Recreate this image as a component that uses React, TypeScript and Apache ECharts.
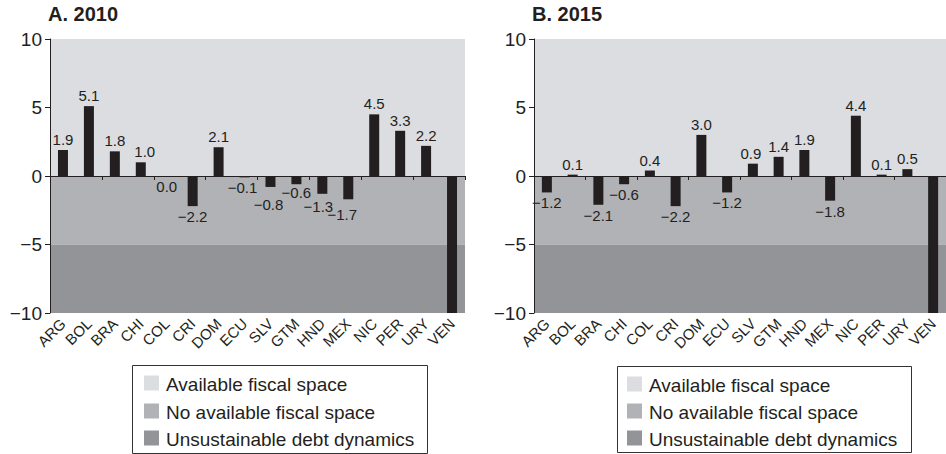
import React, { useEffect, useRef } from "react";
import * as echarts from "echarts";

const categories = ["ARG", "BOL", "BRA", "CHI", "COL", "CRI", "DOM", "ECU", "SLV", "GTM", "HND", "MEX", "NIC", "PER", "URY", "VEN"];
const values2010 = [1.9, 5.1, 1.8, 1.0, -0.0, -2.2, 2.1, -0.1, -0.8, -0.6, -1.3, -1.7, 4.5, 3.3, 2.2, -12];
const values2015 = [-1.2, 0.1, -2.1, -0.6, 0.4, -2.2, 3.0, -1.2, 0.9, 1.4, 1.9, -1.8, 4.4, 0.1, 0.5, -12];
const panelTitles = ["A. 2010", "B. 2015"];
const zoneNames = ["Available fiscal space", "No available fiscal space", "Unsustainable debt dynamics"];
const zoneBounds = [[10, 0], [0, -5], [-5, -10]];
const zoneColors = ["#dcdde0", "#b1b2b5", "#939498"];

// label nudges (layout only), per panel, keyed by category, to avoid overlapping labels
const labelNudges: Record<string, [number, number]>[] = [
  { CHI: [4, 0], ECU: [-2, 0], SLV: [-2, 7], GTM: [0, -2], HND: [-4, 2], MEX: [-6, 5] },
  { SLV: [-2, 0] },
];

const FONT = "'Liberation Sans', Arial, Helvetica, sans-serif";
const INK = "#231f20";
const Y_MIN = -10;
const Y_MAX = 10;

const minus = (s: string) => s.replace("-", "\u2212");

function barData(vals: number[]) {
  return vals.map((v) => ({
    value: v,
    label: {
      show: v >= Y_MIN,
      position: v > 0 ? "top" : "bottom",
      formatter: () => minus(Math.abs(v) < 0.05 ? "0.0" : v.toFixed(1)),
    },
  }));
}

function legendGraphic(x: number, y: number, w: number, h: number, sq: number, tx: number, rows: number[]) {
  const children: any[] = [
    {
      type: "rect",
      shape: { x: x + 0.5, y: y + 0.5, width: w, height: h },
      style: { fill: "#ffffff", stroke: "#333333", lineWidth: 1 },
    },
  ];
  zoneNames.forEach((name, i) => {
    children.push({
      type: "rect",
      shape: { x: sq, y: rows[i] - 7.5, width: 15, height: 15 },
      style: { fill: zoneColors[i] },
    });
    children.push({
      type: "text",
      x: tx,
      y: rows[i] + 1,
      style: { text: name, fill: INK, font: `19px ${FONT}`, verticalAlign: "middle", align: "left" },
    });
  });
  return { type: "group", children };
}

export default function App() {
  const ref = useRef<HTMLDivElement>(null);
  useEffect(() => {
    if (!ref.current) return;
    const chart = echarts.init(ref.current, undefined, { renderer: "svg" });
    const grids = [
      { left: 50, top: 39, width: 415, height: 274 },
      { left: 534, top: 39, width: 416, height: 274 },
    ];
    const datasets = [values2010, values2015];
    const xAxes: any[] = [];
    const yAxes: any[] = [];
    const series: any[] = [];
    grids.forEach((_, gi) => {
      xAxes.push({
        type: "category",
        gridIndex: gi,
        data: categories,
        z: 10,
        axisLine: { show: true, onZero: true, lineStyle: { color: INK, width: 1 } },
        axisTick: { show: true, inside: false, length: 4, lineStyle: { color: INK } },
        axisLabel: { show: false },
      });
      xAxes.push({
        type: "category",
        gridIndex: gi,
        data: categories,
        position: "bottom",
        axisLine: { show: false, onZero: false },
        axisTick: { show: false },
        axisLabel: { show: true, rotate: 45, margin: 8, fontSize: 15, color: INK, fontFamily: FONT, interval: 0 },
      });
      yAxes.push({
        type: "value",
        gridIndex: gi,
        min: Y_MIN,
        max: Y_MAX,
        interval: 5,
        z: 10,
        splitLine: { show: false },
        axisLine: { show: true, lineStyle: { color: INK, width: 1 } },
        axisTick: { show: true, length: 5, lineStyle: { color: INK } },
        axisLabel: {
          fontSize: 19,
          color: INK,
          fontFamily: FONT,
          margin: 8,
          formatter: (v: number) => minus(String(v)),
        },
      });
      const nudges = labelNudges[gi];
      series.push({
        type: "bar",
        xAxisIndex: gi * 2,
        yAxisIndex: gi,
        data: barData(datasets[gi]),
        barWidth: 10,
        clip: true,
        itemStyle: { color: INK },
        label: { fontSize: 15, color: INK, fontFamily: FONT, distance: 3 },
        labelLayout: (params: any) => {
          const n = nudges[categories[params.dataIndex]];
          return n ? { dx: n[0], dy: n[1] } : {};
        },
        markArea: {
          silent: true,
          z: 1,
          data: zoneBounds.map((b, i) => [
            { yAxis: b[0], itemStyle: { color: zoneColors[i] } },
            { yAxis: b[1] },
          ]),
        },
        z: 5,
      });
    });

    chart.setOption({
      animation: false,
      backgroundColor: "#ffffff",
      title: panelTitles.map((t, i) => ({
        text: t,
        left: i === 0 ? 48 : 532,
        top: 4,
        padding: 0,
        textStyle: { fontSize: 20, fontWeight: "bold", color: INK, fontFamily: FONT },
      })),
      grid: grids,
      xAxis: xAxes,
      yAxis: yAxes,
      series,
      graphic: [
        legendGraphic(132, 365, 295, 88, 144, 166, [383, 411, 438]),
        legendGraphic(617, 366, 294, 86, 627, 649, [384, 411, 438]),
      ],
    });
    return () => chart.dispose();
  }, []);
  return <div ref={ref} style={{ position: "fixed", left: 0, top: 0, width: 946, height: 454 }} />;
}
